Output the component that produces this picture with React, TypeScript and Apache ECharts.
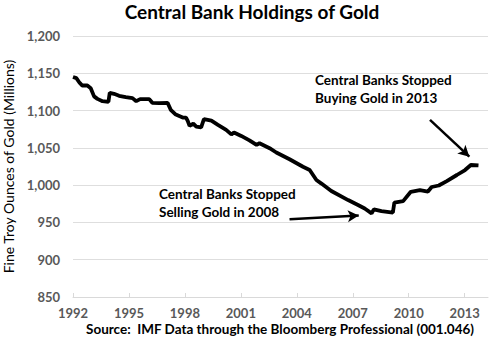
import React, { useEffect, useRef } from "react";
import * as echarts from "echarts";

const years: number[] = [
  1992.0, 1992.18, 1992.36, 1992.5, 1992.77, 1992.95, 1993.13, 1993.31, 1993.58, 1993.9,
  1993.97, 1994.2, 1994.47, 1994.83, 1995.19, 1995.39, 1995.6, 1996.09, 1996.25, 1996.62,
  1997.07, 1997.24, 1997.51, 1997.88, 1998.06, 1998.15, 1998.25, 1998.45, 1998.61, 1998.87,
  1999.02, 1999.42, 1999.77, 2000.21, 2000.49, 2000.63, 2001.02, 2001.46, 2001.84, 2002.0,
  2002.54, 2002.9, 2003.61, 2004.33, 2004.69, 2005.05, 2005.32, 2005.85, 2006.75, 2007.28,
  2007.64, 2008.01, 2008.13, 2008.54, 2009.15, 2009.23, 2009.7, 2010.11, 2010.6, 2011.03,
  2011.23, 2011.61, 2012.04, 2012.58, 2013.02, 2013.33, 2013.74,
];

const holdings: number[] = [
  1145, 1143.5, 1137, 1133.6, 1133.6, 1130, 1119, 1115.7, 1112.6, 1111.7,
  1123.8, 1122.5, 1119.8, 1118, 1116.7, 1112.6, 1115.3, 1115.3, 1110.4, 1110,
  1110.4, 1101, 1094.6, 1090.6, 1090.6, 1086.2, 1079.4, 1082.4, 1078.5, 1077.4,
  1088.4, 1086.4, 1080.8, 1074.1, 1068, 1070.7, 1066, 1060, 1053.9, 1056.2,
  1049.5, 1043.8, 1034.7, 1024.7, 1020.3, 1006.9, 1002.1, 992.1, 980, 973.3,
  968.6, 962.1, 967.5, 965.2, 963.2, 976.6, 978.6, 991.1, 993.4, 991.4,
  997.5, 999.5, 1005.5, 1013.6, 1020.3, 1027, 1026.4,
];

const xTickLabels: number[] = [1992, 1995, 1998, 2001, 2004, 2007, 2010, 2013];

const title = "Central Bank Holdings of Gold";
const yAxisTitle = "Fine Troy Ounces of Gold (Millions)";
const sourceText = "Source:  IMF Data through the Bloomberg Professional (001.046)";
const note2013 = ["Central Banks Stopped", "Buying Gold in 2013"];
const note2008 = ["Central Banks Stopped", "Selling Gold in 2008"];

// arrows in data coordinates [year, value]
const arrow2013: [number, number][] = [[2011.14, 1087.5], [2013.25, 1038.2]];
const arrow2008: [number, number][] = [[2003.61, 954.4], [2007.32, 959.2]];

const FONT = "Lato, 'Open Sans', sans-serif";

export default function App() {
  const ref = useRef<HTMLDivElement>(null);
  useEffect(() => {
    if (!ref.current) return;
    const chart = echarts.init(ref.current, null, { renderer: "svg" });
    const data = years.map((y, i) => [y, holdings[i]]);
    chart.setOption({
      animation: false,
      backgroundColor: "#ffffff",
      textStyle: { fontFamily: FONT },
      title: {
        text: title,
        left: "center",
        top: 2,
        padding: 0,
        textStyle: { fontFamily: FONT, fontSize: 19, fontWeight: "bold", color: "#000" },
      },
      grid: { left: 73, right: 16, top: 36, bottom: 57, containLabel: false, outerBoundsMode: "none" },
      xAxis: {
        type: "value",
        min: 1992,
        max: 2014.25,
        interval: 3,
        axisLine: { show: true, lineStyle: { color: "#d9d9d9", width: 1 } },
        axisTick: { show: true, length: 4, inside: true, lineStyle: { color: "#d9d9d9" } },
        splitLine: { show: false },
        axisLabel: {
          showMaxLabel: false,
          margin: 9,
          lineHeight: 13,
          fontFamily: FONT,
          fontSize: 13,
          fontWeight: "bold",
          color: "#595959",
          formatter: (v: number) => (xTickLabels.indexOf(Math.round(v)) >= 0 && Math.abs(v - Math.round(v)) < 1e-6 ? String(Math.round(v)) : ""),
        },
      },
      yAxis: {
        type: "value",
        min: 850,
        max: 1200,
        interval: 50,
        name: yAxisTitle,
        nameLocation: "middle",
        nameRotate: 90,
        nameGap: 47,
        nameTextStyle: { fontFamily: FONT, fontSize: 14, color: "#000" },
        axisLine: { show: false },
        axisTick: { show: false },
        splitLine: { show: true, lineStyle: { color: "#dedede", width: 1 } },
        axisLabel: {
          margin: 13,
          fontFamily: FONT,
          fontSize: 13,
          fontWeight: "bold",
          color: "#595959",
          formatter: (v: number) => v.toLocaleString("en-US"),
        },
      },
      series: [
        {
          type: "line",
          data,
          symbol: "none",
          lineStyle: { color: "#000", width: 3.8 },
          markLine: {
            silent: true,
            symbol: ["none", "arrow"],
            symbolSize: [9, 11],
            label: { show: false },
            lineStyle: { color: "#000", width: 2.5, type: "solid" },
            data: [
              [{ coord: arrow2013[0] }, { coord: arrow2013[1] }],
              [{ coord: arrow2008[0] }, { coord: arrow2008[1] }],
            ],
          },
        },
      ],
      graphic: [
        {
          type: "text",
          left: 390 - 75,
          top: 71,
          style: {
            text: note2013.join("\n"),
            fontFamily: FONT,
            fontSize: 13.5,
            fontWeight: "bold",
            fill: "#000",
            align: "center",
            lineHeight: 18,
            width: 150,
          },
        },
        {
          type: "text",
          left: 159,
          top: 185,
          style: {
            text: note2008.join("\n"),
            fontFamily: FONT,
            fontSize: 13.5,
            fontWeight: "bold",
            fill: "#000",
            align: "left",
            lineHeight: 18,
          },
        },
        {
          type: "text",
          left: 86,
          top: 322,
          style: {
            text: sourceText,
            fontFamily: FONT,
            fontSize: 13.5,
            fontWeight: "bold",
            fill: "#000",
            lineHeight: 14,
          },
        },
      ],
    });
    return () => chart.dispose();
  }, []);
  return <div ref={ref} style={{ width: 504, height: 354, position: "absolute", left: 0, top: 0 }} />;
}
